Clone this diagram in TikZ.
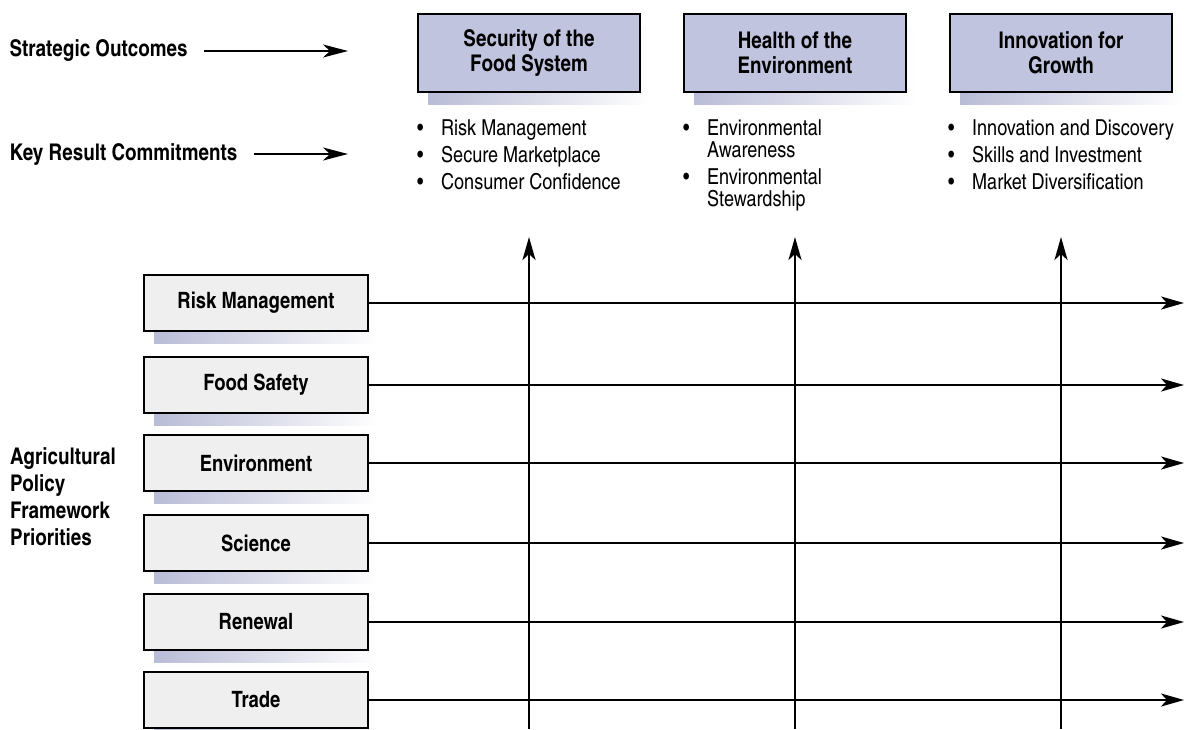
\documentclass[tikz,border=0pt]{standalone}
\usepackage{fontspec}
\setmainfont{texgyreheroscn}[Extension=.otf, UprightFont=*-regular, BoldFont=*-bold]
\usetikzlibrary{shadows}
\usetikzlibrary{arrows.meta}

\definecolor{outcomefill}{RGB}{192,196,222}
\definecolor{priofill}{RGB}{239,239,239}
\definecolor{shadowblue}{RGB}{138,143,188}

\newcommand{\bul}{\makebox[24pt][l]{\textbullet}}

\tikzset{
  boxshadow/.style={general shadow={shadow xshift=10pt, shadow yshift=-12pt,
      left color=shadowblue!60, middle color=shadowblue, right color=white}},
  outcome/.style={draw, line width=1.2pt, fill=outcomefill, boxshadow,
      minimum width=222pt, minimum height=78pt, align=center,
      font=\fontsize{23}{25}\selectfont\bfseries},
  prio/.style={draw, line width=1.2pt, fill=priofill, boxshadow,
      minimum width=224pt, minimum height=56pt,
      font=\fontsize{22.5}{25}\selectfont\bfseries},
  sidelabel/.style={anchor=west, align=left, font=\fontsize{23}{27}\selectfont\bfseries},
  commit/.style={anchor=north west, inner sep=0pt, align=left,
      font=\fontsize{22}{22}\selectfont},
  flow/.style={line width=2.6pt, -{Stealth[length=23pt,width=13pt,inset=6pt]}},
  pointer/.style={line width=1.6pt, -{Stealth[length=25pt,width=13pt,inset=7pt]}}
}

\begin{document}
\begin{tikzpicture}[x=1pt, y=-1pt]
\useasboundingbox (0,0) rectangle (1185,729);

% strategic outcomes
\node[outcome] (sec) at (529,53) {Security of the\\Food System};
\node[outcome] (hea) at (795,53) {Health of the\\Environment};
\node[outcome] (inn) at (1061,53) {Innovation for\\Growth};

% key result commitments
\node[commit] (kr1) at (417,119) {\bul Risk Management\\[5pt]
 \bul Secure Marketplace\\[5pt]
 \bul Consumer Confidence};
\node[commit] (kr2) at (683,119) {\bul Environmental\\
 \hspace*{24pt}Awareness\\[5pt]
 \bul Environmental\\
 \hspace*{24pt}Stewardship};
\node[commit] (kr3) at (948,119) {\bul Innovation and Discovery\\[5pt]
 \bul Skills and Investment\\[5pt]
 \bul Market Diversification};

% row labels
\node[sidelabel] (so) at (6,51) {Strategic Outcomes};
\node[sidelabel] (krc) at (6,154) {Key Result Commitments};
\node[sidelabel, anchor=north west, inner sep=0pt] (apf) at (10,447) {Agricultural\\Policy\\Framework\\Priorities};
\coordinate (soend) at (348,51);
\coordinate (krend) at (348,154);
\draw[pointer] ([xshift=13pt]so.east) -- (soend);
\draw[pointer] ([xshift=13pt]krc.east) -- (krend);

% priorities
\coordinate (rend) at (1184,0);
\foreach \name/\txt/\y in {risk/Risk Management/303, food/Food Safety/385,
    env/Environment/463, sci/Science/543, ren/Renewal/622, trade/Trade/700}{
  \node[prio] (\name) at (256,\y) {\txt};
  \draw[flow] (\name.east) -- (\name -| rend);
}

% vertical arrows
\coordinate (bottom) at (0,729);
\coordinate (top) at (0,237);
\foreach \o in {sec,hea,inn}
  \draw[flow] (\o |- bottom) -- (\o |- top);
\end{tikzpicture}
\end{document}
